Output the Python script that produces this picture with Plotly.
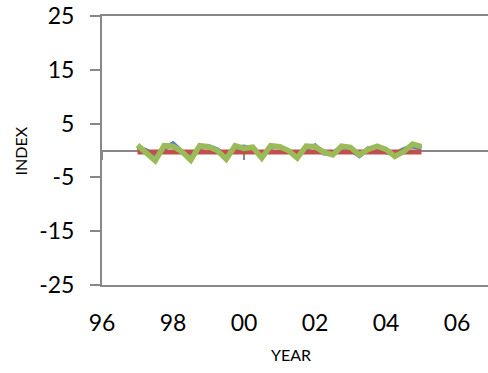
import plotly.graph_objects as go

quarters = [1997 + 0.25 * i for i in range(33)]
blue_vals = [0.6, 0.0, -1.2, 0.3, 1.3, -0.2, -1.3, 0.5, 0.8, 0.2, -1.1, 0.5,
             0.7, 0.3, -1.0, 0.6, 0.8, -0.1, -1.0, 0.3, 0.9, -0.5, -0.6, 0.7,
             0.2, -1.0, 0.4, 0.5, -0.3, -0.7, 0.2, 0.8, 0.4]
red_vals = [-0.3, -0.3, -0.35, -0.3, -0.25, -0.3, -0.35, -0.3, -0.3, -0.3, -0.35, -0.3,
            -0.25, -0.3, -0.35, -0.3, -0.3, -0.3, -0.35, -0.3, -0.25, -0.3, -0.35, -0.3,
            -0.3, -0.3, -0.35, -0.3, -0.25, -0.3, -0.3, -0.3, -0.3]
green_vals = [1.0, -0.3, -1.9, 0.9, 0.8, -0.2, -1.8, 0.9, 0.7, 0.0, -1.6, 0.9,
              0.4, 0.6, -1.4, 0.9, 0.7, 0.0, -1.4, 0.8, 0.7, -0.3, -0.8, 0.8,
              0.6, -0.8, 0.2, 0.8, 0.2, -1.1, -0.2, 1.2, 0.7]

x_tickvals = [1996, 1998, 2000, 2002, 2004, 2006]
x_ticktext = ["96", "98", "00", "02", "04", "06"]
y_tickvals = [25, 15, 5, -5, -15, -25]
y_ticktext = ["25", "15", "5", "-5", "-15", "-25"]
zero_axis_ticks = [1996, 2000]

axis_color = "#888888"
font_family = "Lato, Open Sans, sans-serif"

fig = go.Figure()
fig.add_trace(go.Scatter(x=quarters, y=blue_vals, mode="lines",
                         line=dict(color="#4F81BD", width=4.5), showlegend=False))
fig.add_trace(go.Scatter(x=quarters, y=red_vals, mode="lines",
                         line=dict(color="#C0504D", width=5), showlegend=False))
fig.add_trace(go.Scatter(x=quarters, y=green_vals, mode="lines",
                         line=dict(color="#9BBB59", width=5.5), showlegend=False))

x_range = [1996, 1996 + 386 / 35.5]

fig.update_layout(
    width=488, height=373,
    margin=dict(l=102, r=0, t=16, b=88),
    plot_bgcolor="white", paper_bgcolor="white",
    font=dict(family=font_family, color="#000000"),
    xaxis=dict(range=x_range, tickvals=x_tickvals, ticktext=x_ticktext,
               showgrid=False, zeroline=False, showline=True, mirror=True,
               linecolor=axis_color, linewidth=2, automargin=False,
               ticks="outside", ticklen=16, tickcolor="rgba(0,0,0,0)",
               tickfont=dict(size=23, family=font_family)),
    xaxis2=dict(range=x_range, overlaying="x", anchor="free", position=0.5,
                tickvals=zero_axis_ticks, showticklabels=False,
                showgrid=False, zeroline=False, showline=True, automargin=False,
                linecolor=axis_color, linewidth=2,
                ticks="outside", ticklen=8, tickwidth=2, tickcolor=axis_color,
                layer="below traces"),
    yaxis=dict(range=[-25, 25], tickvals=y_tickvals, ticktext=y_ticktext,
               showgrid=False, zeroline=False, showline=True, automargin=False,
               linecolor=axis_color, linewidth=2,
               ticks="outside", ticklen=10, tickwidth=2, tickcolor=axis_color,
               ticklabelstandoff=11,
               tickfont=dict(size=23, family=font_family)),
    annotations=[
        dict(text="INDEX", xref="paper", yref="paper", x=-0.21, y=0.5,
             textangle=-90, showarrow=False, xanchor="center", yanchor="middle",
             font=dict(size=16, family=font_family)),
        dict(text="YEAR", xref="paper", yref="paper", x=0.49, y=-0.26,
             showarrow=False, xanchor="center", yanchor="middle",
             font=dict(size=16, family=font_family)),
    ],
)

fig.add_trace(go.Scatter(x=[quarters[0]], y=[0], xaxis="x2", mode="markers",
                         marker=dict(opacity=0), showlegend=False, hoverinfo="skip"))

fig.write_html("out.html", config={"displayModeBar": False},
               post_script="document.body.style.margin='0';document.body.style.padding='0';")
